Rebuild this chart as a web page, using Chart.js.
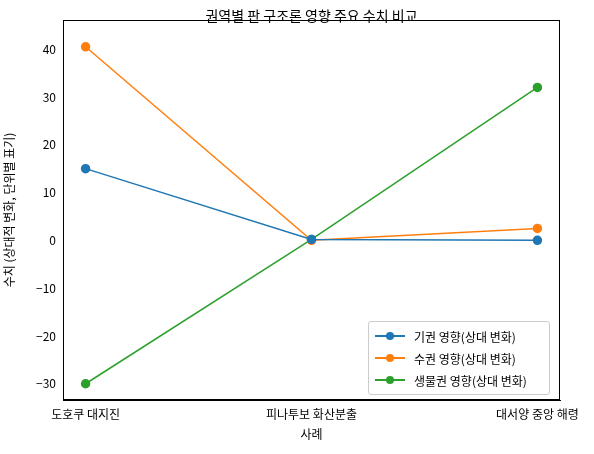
<!DOCTYPE html>
<html><head><meta charset="utf-8">
<script src="https://cdn.jsdelivr.net/npm/chart.js@4"></script>
<style>
body{margin:0;background:#fff;font-family:"Noto Sans CJK KR";}
#wrap{position:relative;width:594px;height:454px;}
#legend{position:absolute;left:368px;top:321px;width:180px;border:1px solid #ccc;border-radius:3px;background:rgba(255,255,255,0.85);padding:3px 0;font-size:12px;}
.item{display:flex;align-items:center;height:22px;padding-left:6px;}
.mk{position:relative;width:30px;height:2px;margin-right:9px;}
.mk span{position:absolute;left:11px;top:-3px;width:8px;height:8px;border-radius:50%;}
</style></head>
<body><div id="wrap"><canvas id="c" width="594" height="454"></canvas><div id="legend"></div></div>
<script>
const categories = ['도호쿠 대지진', '피나투보 화산분출', '대서양 중앙 해령'];
const seriesNames = ['기권 영향(상대 변화)', '수권 영향(상대 변화)', '생물권 영향(상대 변화)'];
const geoValues = [15, 0.2, 0];
const hydroValues = [40.5, 0, 2.5];
const bioValues = [-30, 0.2, 32];
const yTicks = [-30, -20, -10, 0, 10, 20, 30, 40];
const colors = ['#1f77b4', '#ff7f0e', '#2ca02c'];

const font = 'Noto Sans CJK KR';
const toPts = vals => vals.map((v, i) => ({x: i, y: v}));
const datasets = [geoValues, hydroValues, bioValues].map((vals, i) => ({
    label: seriesNames[i],
    data: toPts(vals),
    borderColor: colors[i],
    backgroundColor: colors[i],
    borderWidth: 1.5,
    pointRadius: 4,
    tension: 0
}));

document.getElementById('legend').innerHTML = seriesNames.map((n, i) =>
    `<div class="item"><div class="mk" style="background:${colors[i]}"><span style="background:${colors[i]}"></span></div>${n}</div>`).join('');

// title text plus full frame around the plot area
const framePlugin = {
    id: 'frameTitle',
    afterDraw(chart) {
        const ctx = chart.ctx;
        const a = chart.chartArea;
        ctx.save();
        ctx.strokeStyle = '#000';
        ctx.lineWidth = 1;
        ctx.strokeRect(a.left + 0.5, a.top + 0.5, a.right - a.left - 1, a.bottom - a.top - 1);
        ctx.font = `14px "${font}"`;
        ctx.fillStyle = '#000';
        ctx.textAlign = 'center';
        ctx.fillText('권역별 판 구조론 영향 주요 수치 비교', (a.left + a.right) / 2, 21);
        ctx.restore();
    }
};

new Chart(document.getElementById('c'), {
    type: 'line',
    data: {datasets},
    plugins: [framePlugin],
    options: {
        responsive: false,
        animation: false,
        layout: {padding: {top: 20, right: 34, left: 0, bottom: 12}},
        plugins: {legend: {display: false}, tooltip: {enabled: false}},
        scales: {
            x: {
                type: 'linear', min: -0.1, max: 2.1,
                afterBuildTicks: s => { s.ticks = categories.map((c, i) => ({value: i})); },
                afterFit: s => { s.height = 42; },
                ticks: {callback: v => categories[v], color: '#000', font: {family: font, size: 12}, maxRotation: 0},
                grid: {display: false, tickLength: 4},
                border: {color: '#000'},
                title: {display: true, text: '사례', color: '#000', font: {family: font, size: 12}, padding: 0}
            },
            y: {
                min: -33.4, max: 46.1,
                afterBuildTicks: s => { s.ticks = yTicks.map(v => ({value: v})); },
                afterFit: s => { s.width = 63; },
                ticks: {callback: v => v < 0 ? '−' + Math.abs(v) : v, color: '#000', font: {family: font, size: 12}},
                grid: {display: false, tickLength: 4},
                border: {color: '#000'},
                title: {display: true, text: '수치 (상대적 변화, 단위별 표기)', color: '#000', font: {family: font, size: 12}, padding: 2}
            }
        }
    }
});
</script></body></html>
